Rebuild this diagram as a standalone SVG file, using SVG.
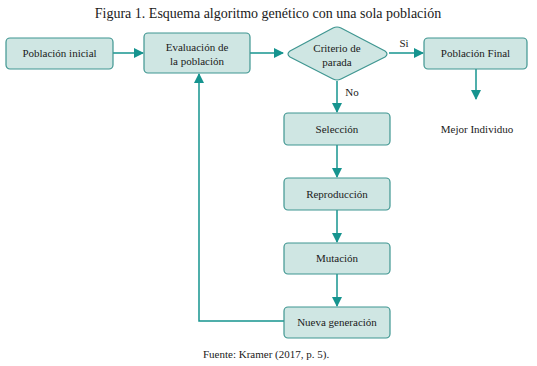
<svg xmlns="http://www.w3.org/2000/svg" width="537" height="366" viewBox="0 0 537 366" font-family="'Liberation Serif', 'Times New Roman', serif">
<defs>
<style>
.box{fill:#cfe6e3;stroke:#3f9691;stroke-width:1.2}
.t{font-family:'Liberation Serif','Times New Roman',serif;font-size:11px;fill:#1a1a1a;text-anchor:middle}
.c{fill:none;stroke:#16948f;stroke-width:1.5}
</style>
<marker id="ah" markerWidth="10" markerHeight="10" refX="9" refY="5" orient="auto" markerUnits="userSpaceOnUse">
<path d="M0,0 L10,5 L0,10 Z" fill="#16948f"/>
</marker>
</defs>
<rect width="537" height="366" fill="#ffffff"/>
<text x="268" y="18" font-family="'Liberation Serif', serif" font-size="14" fill="#1a1a1a" text-anchor="middle">Figura 1. Esquema algoritmo genético con una sola población</text>
<g id="connectors">
<line class="c" x1="113" y1="53" x2="143" y2="53" marker-end="url(#ah)"/>
<line class="c" x1="250" y1="53" x2="283" y2="53" marker-end="url(#ah)"/>
<line class="c" x1="389" y1="53" x2="423" y2="53" marker-end="url(#ah)"/>
<line class="c" x1="476" y1="69" x2="476" y2="99" marker-end="url(#ah)"/>
<line class="c" x1="337" y1="81" x2="337" y2="112" marker-end="url(#ah)"/>
<line class="c" x1="337" y1="145" x2="337" y2="177" marker-end="url(#ah)"/>
<line class="c" x1="337" y1="210" x2="337" y2="242" marker-end="url(#ah)"/>
<line class="c" x1="337" y1="274" x2="337" y2="306" marker-end="url(#ah)"/>
<polyline class="c" points="284,321 199,321 199,74" marker-end="url(#ah)"/>
<text class="t" x="404" y="47">Si</text>
<text class="t" x="352" y="96">No</text>
</g>
<g id="n1"><rect class="box" x="6" y="38" width="107" height="31" rx="4"/><text class="t" x="59.5" y="57">Población inicial</text></g>
<g id="n2"><rect class="box" x="144" y="33" width="106" height="40" rx="4"/><text class="t" x="197" y="51">Evaluación de</text><text class="t" x="197" y="65">la población</text></g>
<g id="n3"><path class="box" d="M333,28 Q337,26 341,28 L385,51 Q389,54 385,57 L341,79 Q337,81 333,79 L290,57 Q286,54 290,51 Z"/><text class="t" x="337" y="52">Criterio de</text><text class="t" x="337" y="66">parada</text></g>
<g id="n4"><rect class="box" x="424" y="38" width="103" height="31" rx="4"/><text class="t" x="475.5" y="57">Población Final</text></g>
<g id="n5"><text class="t" x="477" y="133">Mejor Individuo</text></g>
<g id="n6"><rect class="box" x="284" y="113" width="106" height="32" rx="4"/><text class="t" x="337" y="133">Selección</text></g>
<g id="n7"><rect class="box" x="284" y="178" width="106" height="32" rx="4"/><text class="t" x="337" y="198">Reproducción</text></g>
<g id="n8"><rect class="box" x="284" y="243" width="106" height="31" rx="4"/><text class="t" x="337" y="262">Mutación</text></g>
<g id="n9"><rect class="box" x="284" y="307" width="106" height="31" rx="4"/><text class="t" x="337" y="326">Nueva generación</text></g>
<text x="203" y="358" font-family="'Liberation Serif', serif" font-size="11" fill="#1a1a1a">Fuente: Kramer (2017, p. 5).</text>
</svg>
